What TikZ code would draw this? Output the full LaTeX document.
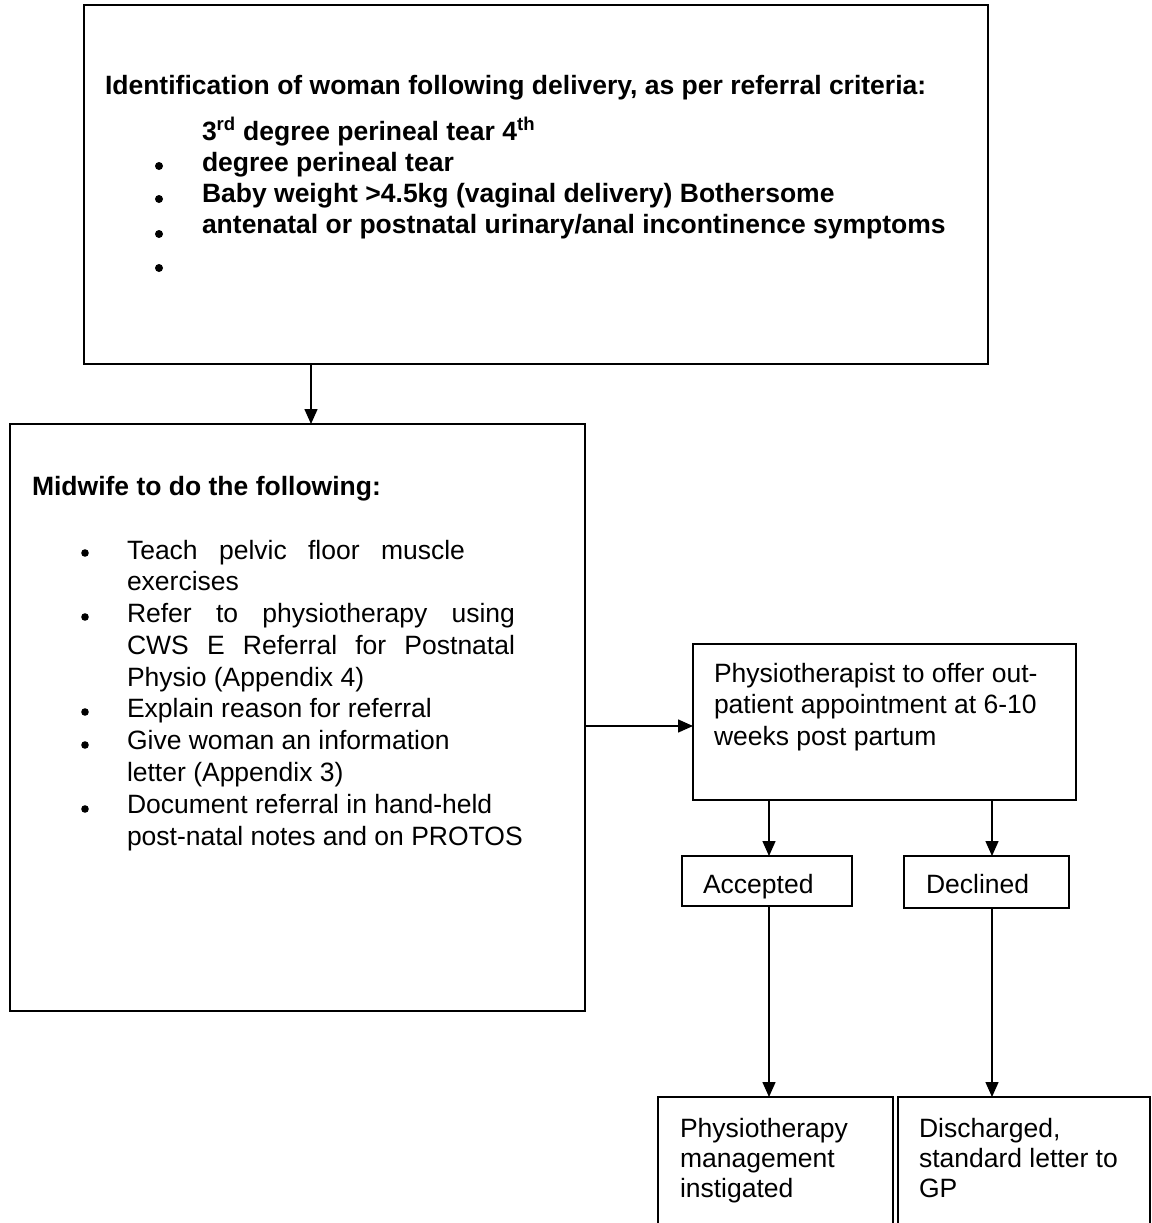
\documentclass[tikz,border=0pt]{standalone}
\usepackage{fontspec}
\setmainfont{Liberation Sans}
\usetikzlibrary{arrows.meta}
\begin{document}
\begin{tikzpicture}[x=1pt,y=-1pt,
  box/.style={draw, line width=1.8pt, outer sep=0pt, inner sep=0pt, anchor=north west},
  txt/.style={anchor=base west, inner sep=0pt, outer sep=0pt, font=\fontsize{26.5}{31.8}\selectfont},
  btxt/.style={anchor=base west, inner sep=0pt, outer sep=0pt, font=\fontsize{26.5}{31.8}\selectfont\bfseries},
  arr/.style={line width=1.5pt, -{Triangle[length=15pt,width=13pt]}}]
\useasboundingbox[fill=white] (0,0) rectangle (1151,1223);

% boxes
\node[box, minimum width=904pt, minimum height=359pt] (top) at (84,5) {};
\node[box, minimum width=575pt, minimum height=587pt] (mid) at (10,424) {};
\node[box, minimum width=383pt, minimum height=156pt] (phys) at (693,644) {};
\node[box, minimum width=170pt, minimum height=50pt] (acc) at (682,856) {};
\node[box, minimum width=165pt, minimum height=52pt] (dec) at (904,856) {};
\node[box, minimum width=235pt, minimum height=170pt] (pm) at (658,1097) {};
\node[box, minimum width=252pt, minimum height=170pt] (dis) at (898,1097) {};

% top box text
\node[btxt] (tt) at (105,94) {Identification of woman following delivery, as per referral criteria:};
\node[btxt] (ti1) at (202,140) {3\textsuperscript{rd} degree perineal tear 4\textsuperscript{th}};
\node[btxt] (ti2) at (202,171) {degree perineal tear};
\node[btxt] (ti3) at (202,202) {Baby weight >4.5kg (vaginal delivery) Bothersome};
\node[btxt] (ti4) at (202,233) {antenatal or postnatal urinary/anal incontinence symptoms};
\fill (159,166) circle (4pt);
\fill (159,199) circle (4pt);
\fill (159,234) circle (4pt);
\fill (159,268) circle (4pt);

% midwife box text
\node[btxt] (mt) at (32,495) {Midwife to do the following:};
\node[txt] (m1) at (127,559) {\hbox to 338pt{Teach\hfill pelvic\hfill floor\hfill muscle}};
\node[txt] (m2) at (127,590) {exercises};
\node[txt] (m3) at (127,622) {\hbox to 388pt{Refer\hfill to\hfill physiotherapy\hfill using}};
\node[txt] (m4) at (127,654) {\hbox to 388pt{CWS\hfill E\hfill Referral\hfill for\hfill Postnatal}};
\node[txt] (m5) at (127,686) {Physio (Appendix 4)};
\node[txt] (m6) at (127,717) {Explain reason for referral};
\node[txt] (m7) at (127,749) {Give woman an information};
\node[txt] (m8) at (127,781) {letter (Appendix 3)};
\node[txt] (m9) at (127,813) {Document referral in hand-held};
\node[txt] (m10) at (127,845) {post-natal notes and on PROTOS};
\fill (85,553) circle (3.8pt);
\fill (85,617) circle (3.8pt);
\fill (85,712) circle (3.8pt);
\fill (85,745) circle (3.8pt);
\fill (85,809) circle (3.8pt);

% physio box text
\node[txt] (p1) at (714,682) {Physiotherapist to offer out-};
\node[txt] (p2) at (714,713) {patient appointment at 6-10};
\node[txt] (p3) at (714,745) {weeks post partum};

\node[txt] (acct) at (703,893) {Accepted};
\node[txt] (dect) at (926,893) {Declined};

\node[txt] (pm1) at (680,1137) {Physiotherapy};
\node[txt] (pm2) at (680,1167) {management};
\node[txt] (pm3) at (680,1197) {instigated};

\node[txt] (d1) at (919,1137) {Discharged,};
\node[txt] (d2) at (919,1167) {standard letter to};
\node[txt] (d3) at (919,1197) {GP};

% connectors
\coordinate (c1) at (311,0);
\coordinate (c2) at (0,726);
\coordinate (c3) at (769,0);
\coordinate (c4) at (992,0);
\draw[arr] (top.south -| c1) -- (mid.north -| c1);
\draw[arr] (mid.east |- c2) -- (phys.west |- c2);
\draw[arr] (phys.south -| c3) -- (acc.north -| c3);
\draw[arr] (phys.south -| c4) -- (dec.north -| c4);
\draw[arr] (acc.south -| c3) -- (pm.north -| c3);
\draw[arr] (dec.south -| c4) -- (dis.north -| c4);
\end{tikzpicture}
\end{document}
